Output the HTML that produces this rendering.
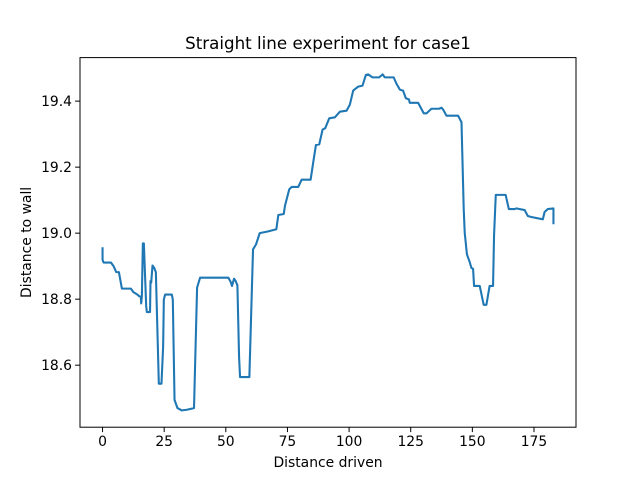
<!DOCTYPE html>
<html><head><meta charset="utf-8"><style>
body{margin:0;background:#fff}
svg{display:block;font-family:"DejaVu Sans","Liberation Sans",sans-serif}
</style></head><body>
<svg id="chart" width="640" height="480" viewBox="0 0 640 480">
<rect width="640" height="480" fill="#fff"/>
<text x="328" y="49" font-size="16.7" text-anchor="middle" fill="#000">Straight line experiment for case1</text>
<g id="xt"></g>
<g id="yt"></g>
<path id="line" fill="none" stroke="#1f77b4" stroke-width="2.08" stroke-linejoin="round" stroke-linecap="square"/>
<rect x="80" y="57.6" width="496" height="369.6" fill="none" stroke="#000" stroke-width="1"/>
<text x="328" y="467" font-size="13.9" text-anchor="middle">Distance driven</text>
<text transform="translate(31,242.4) rotate(-90)" font-size="13.9" text-anchor="middle">Distance to wall</text>
</svg>
<script>
const xTicks=[0,25,50,75,100,125,150,175];
const yTicks=[18.6,18.8,19.0,19.2,19.4];
const yTickLabels=["18.6","18.8","19.0","19.2","19.4"];
const distX=[0,0.01,0.42,3.39,4.47,5.55,6.63,7.85,11.49,12.57,13.92,14.87,15.54,15.68,15.95,16.35,16.76,17.7,17.97,19.26,19.45,19.73,20.27,20.94,21.62,22.83,23.9,24.58,24.86,25.4,28.1,28.5,29.2,30.4,32.15,34.17,37.1,38.35,39.57,51.05,52,52.5,53.34,54,54.7,55.37,55.77,59.55,61.04,62.26,63.74,67,70.5,71.3,73.5,74.0,75.74,76.7,79.4,80.75,84.4,85.47,86.55,87.9,89.26,90.33,91.95,94.25,96.27,98.97,100.3,101.67,103.7,105.45,106.8,107.74,109.5,112.2,113.6,114.5,118.1,119.2,120.6,121.9,123.0,124.3,124.6,128.0,130.3,131.4,133.4,136.5,137.5,138.1,139.5,144.2,145.6,146.5,146.9,147.8,148.9,149.6,150.3,150.7,153.0,154.6,155.7,157.0,158.4,158.8,159.5,163.5,164.8,167.2,167.8,171.2,172.5,173.9,178.6,179.3,180.6,182.9,182.9];
const wallY=[18.954,18.919,18.911,18.911,18.900,18.882,18.882,18.832,18.832,18.821,18.815,18.809,18.807,18.787,18.809,18.969,18.969,18.779,18.761,18.761,18.855,18.850,18.902,18.895,18.882,18.544,18.544,18.657,18.799,18.814,18.814,18.799,18.495,18.470,18.463,18.465,18.470,18.835,18.865,18.865,18.852,18.840,18.862,18.855,18.842,18.627,18.564,18.564,18.951,18.966,19.000,19.005,19.012,19.055,19.058,19.083,19.133,19.140,19.140,19.162,19.162,19.215,19.267,19.269,19.314,19.318,19.348,19.351,19.368,19.371,19.389,19.432,19.444,19.447,19.479,19.481,19.472,19.472,19.481,19.472,19.472,19.453,19.435,19.432,19.409,19.405,19.395,19.395,19.363,19.363,19.377,19.377,19.380,19.375,19.356,19.356,19.336,19.073,19.002,18.936,18.913,18.895,18.892,18.840,18.840,18.783,18.783,18.840,18.840,18.992,19.116,19.116,19.073,19.073,19.075,19.070,19.052,19.049,19.042,19.064,19.073,19.075,19.030];
const NS="http://www.w3.org/2000/svg";
const L=80,R=576,T=57.6,B=427.2;
const x0=Math.min(...distX),x1=Math.max(...distX),xm=(x1-x0)*0.05;
const y0=Math.min(...wallY),y1=Math.max(...wallY),ym=(y1-y0)*0.05;
const xs=v=>L+(v-(x0-xm))/((x1+xm)-(x0-xm))*(R-L);
const ys=v=>B-(v-(y0-ym))/((y1+ym)-(y0-ym))*(B-T);
let d="";
distX.forEach((v,i)=>{d+=(i?"L":"M")+xs(v).toFixed(2)+","+ys(wallY[i]).toFixed(2);});
document.getElementById("line").setAttribute("d",d);
const xg=document.getElementById("xt"),yg=document.getElementById("yt");
xTicks.forEach(t=>{
 const X=xs(t);
 const l=document.createElementNS(NS,"line");
 l.setAttribute("x1",X);l.setAttribute("x2",X);l.setAttribute("y1",B);l.setAttribute("y2",B+4.9);l.setAttribute("stroke","#000");
 
 
 xg.appendChild(l);
 const s=document.createElementNS(NS,"text");
 s.setAttribute("x",X);s.setAttribute("y",B+19);s.setAttribute("font-size","13.9");s.setAttribute("text-anchor","middle");
 s.textContent=String(t);
 
 
 xg.appendChild(s);
});
yTicks.forEach((t,i)=>{
 const Y=ys(t);
 const l=document.createElementNS(NS,"line");
 l.setAttribute("x1",L-4.9);l.setAttribute("x2",L);l.setAttribute("y1",Y);l.setAttribute("y2",Y);l.setAttribute("stroke","#000");
 
 
 yg.appendChild(l);
 const s=document.createElementNS(NS,"text");
 s.setAttribute("x",L-8);s.setAttribute("y",Y+5);s.setAttribute("font-size","13.9");s.setAttribute("text-anchor","end");
 s.textContent=yTickLabels[i];
 
 
 yg.appendChild(s);
});
</script>
</body></html>
